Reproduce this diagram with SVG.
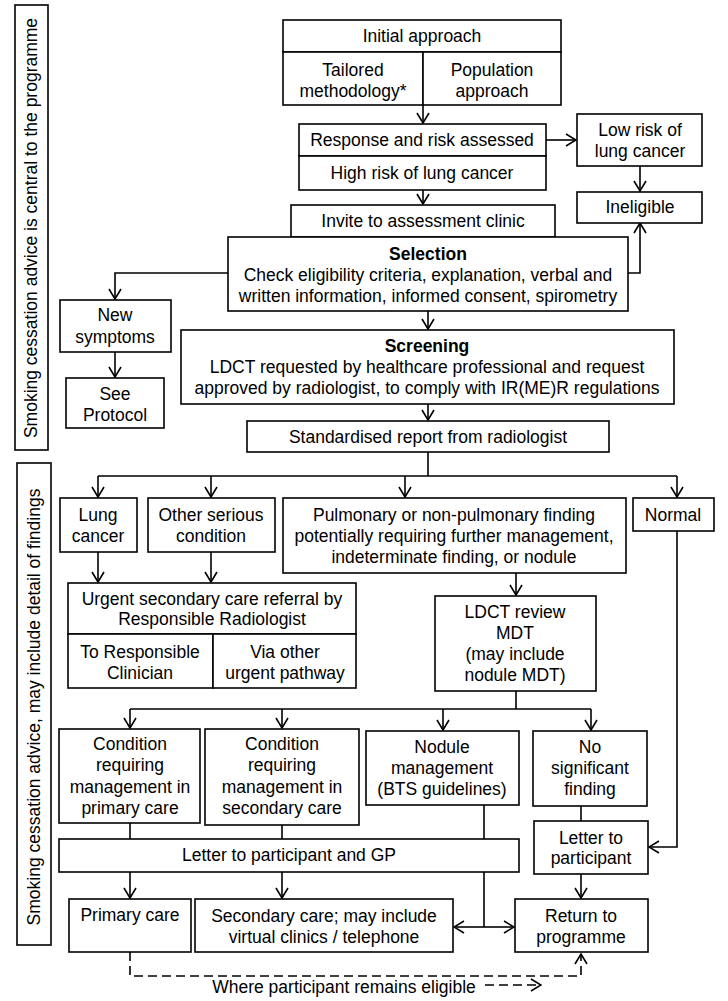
<svg xmlns="http://www.w3.org/2000/svg" width="728" height="1001" viewBox="0 0 728 1001">
<style>
.b{fill:#fff;stroke:#000;stroke-width:1.6}
text{font-family:"Liberation Sans",Arial,sans-serif;font-size:17.5px;fill:#000;text-anchor:middle}
.bold{font-weight:bold}
.c{fill:none;stroke:#000;stroke-width:1.6}
.d{fill:none;stroke:#000;stroke-width:1.6;stroke-dasharray:9 5}
</style>
<defs>
<marker id="a" viewBox="-1 -1 12 14" refX="10" refY="6" markerWidth="12" markerHeight="14" markerUnits="userSpaceOnUse" orient="auto">
<path d="M0,0 L10,6 L0,12" fill="none" stroke="#000" stroke-width="1.6"/>
</marker>
</defs>
<rect width="728" height="1001" fill="#fff"/>

<g id="bar1"><rect class="b" x="15" y="5" width="33" height="445"/><text transform="translate(37,228) rotate(-90)">Smoking cessation advice is central to the programme</text></g>
<g id="bar2"><rect class="b" x="17" y="463" width="34" height="482"/><text transform="translate(40,707) rotate(-90)">Smoking cessation advice, may include detail of findings</text></g>

<g id="connectors">
<path class="c" d="M423,105 V123" marker-end="url(#a)"/>
<path class="c" d="M546,140 H576" marker-end="url(#a)"/>
<path class="c" d="M640,166 V191" marker-end="url(#a)"/>
<path class="c" d="M423,190 V204" marker-end="url(#a)"/>
<path class="c" d="M628,273 H640 V223" marker-end="url(#a)"/>
<path class="c" d="M228,273 H115 V299" marker-end="url(#a)"/>
<path class="c" d="M115,352 V377" marker-end="url(#a)"/>
<path class="c" d="M428,311 V329" marker-end="url(#a)"/>
<path class="c" d="M428,404 V420" marker-end="url(#a)"/>
<path class="c" d="M428,452 V476 M98,476 H677"/>
<path class="c" d="M98,476 V497" marker-end="url(#a)"/>
<path class="c" d="M211,476 V497" marker-end="url(#a)"/>
<path class="c" d="M405,476 V497" marker-end="url(#a)"/>
<path class="c" d="M677,476 V497" marker-end="url(#a)"/>
<path class="c" d="M98,552 V582" marker-end="url(#a)"/>
<path class="c" d="M211,552 V582" marker-end="url(#a)"/>
<path class="c" d="M516,573 V595" marker-end="url(#a)"/>
<path class="c" d="M516,691 V709 M130,709 H591"/>
<path class="c" d="M130,709 V728" marker-end="url(#a)"/>
<path class="c" d="M282,709 V728" marker-end="url(#a)"/>
<path class="c" d="M443,709 V730" marker-end="url(#a)"/>
<path class="c" d="M591,709 V730" marker-end="url(#a)"/>
<path class="c" d="M130,823 V839 M282,825 V839 M484,805 V839 M581,806 V821"/>
<path class="c" d="M677,531 V847 H649" marker-end="url(#a)"/>
<path class="c" d="M581,874 V898" marker-end="url(#a)"/>
<path class="c" d="M130,872 V898" marker-end="url(#a)"/>
<path class="c" d="M282,872 V898" marker-end="url(#a)"/>
<path class="c" d="M484,872 V927"/>
<path class="c" d="M484,927 H454" marker-end="url(#a)"/>
<path class="c" d="M484,927 H514" marker-end="url(#a)"/>
<path class="d" d="M130,952 V976 H581 V954" marker-end="url(#a)"/>
<path class="d" d="M485,985 H541" marker-end="url(#a)"/>
</g>

<g id="initial"><rect class="b" x="283" y="20" width="278" height="32"/><text x="422" y="42">Initial approach</text></g>
<g id="tailored"><rect class="b" x="283" y="52" width="140" height="53"/><text x="353" y="76">Tailored</text><text x="353" y="97">methodology*</text></g>
<g id="population"><rect class="b" x="423" y="52" width="138" height="53"/><text x="492" y="76">Population</text><text x="492" y="97">approach</text></g>
<g id="response"><rect class="b" x="299" y="124" width="247" height="32"/><text x="422" y="146">Response and risk assessed</text></g>
<g id="highrisk"><rect class="b" x="299" y="156" width="247" height="34"/><text x="422" y="179">High risk of lung cancer</text></g>
<g id="lowrisk"><rect class="b" x="577" y="114" width="125" height="52"/><text x="640" y="136">Low risk of</text><text x="640" y="157">lung cancer</text></g>
<g id="ineligible"><rect class="b" x="577" y="192" width="125" height="31"/><text x="640" y="213">Ineligible</text></g>
<g id="invite"><rect class="b" x="291" y="205" width="264" height="32"/><text x="423" y="227">Invite to assessment clinic</text></g>
<g id="selection"><rect class="b" x="228" y="237" width="400" height="74"/><text class="bold" x="428" y="260">Selection</text><text x="428" y="281">Check eligibility criteria, explanation, verbal and</text><text x="428" y="302">written information, informed consent, spirometry</text></g>
<g id="newsymptoms"><rect class="b" x="60" y="300" width="111" height="52"/><text x="115" y="321">New</text><text x="115" y="343">symptoms</text></g>
<g id="protocol"><rect class="b" x="66" y="378" width="98" height="50"/><text x="115" y="400">See</text><text x="115" y="421">Protocol</text></g>
<g id="screening"><rect class="b" x="181" y="330" width="493" height="74"/><text class="bold" x="427" y="352">Screening</text><text x="427" y="373">LDCT requested by healthcare professional and request</text><text x="427" y="394">approved by radiologist, to comply with IR(ME)R regulations</text></g>
<g id="report"><rect class="b" x="247" y="421" width="362" height="31"/><text x="428" y="443">Standardised report from radiologist</text></g>
<g id="lungcancer"><rect class="b" x="60" y="498" width="77" height="54"/><text x="98" y="521">Lung</text><text x="98" y="542">cancer</text></g>
<g id="otherserious"><rect class="b" x="148" y="498" width="127" height="54"/><text x="211" y="521">Other serious</text><text x="211" y="542">condition</text></g>
<g id="pulmonary"><rect class="b" x="283" y="498" width="343" height="75"/><text x="454" y="521">Pulmonary or non-pulmonary finding</text><text x="454" y="542">potentially requiring further management,</text><text x="454" y="563">indeterminate finding, or nodule</text></g>
<g id="normal"><rect class="b" x="633" y="498" width="81" height="33"/><text x="673" y="521">Normal</text></g>
<g id="urgent"><rect class="b" x="68" y="583" width="288" height="51"/><text x="212" y="605">Urgent secondary care referral by</text><text x="212" y="625">Responsible Radiologist</text></g>
<g id="clinician"><rect class="b" x="68" y="634" width="145" height="54"/><text x="140" y="658">To Responsible</text><text x="140" y="679">Clinician</text></g>
<g id="otherpathway"><rect class="b" x="213" y="634" width="143" height="54"/><text x="285" y="658">Via other</text><text x="285" y="679">urgent pathway</text></g>
<g id="mdt"><rect class="b" x="435" y="596" width="161" height="95"/><text x="515" y="618">LDCT review</text><text x="515" y="639">MDT</text><text x="515" y="660">(may include</text><text x="515" y="681">nodule MDT)</text></g>
<g id="primarycond"><rect class="b" x="59" y="729" width="141" height="94"/><text x="130" y="750">Condition</text><text x="130" y="771">requiring</text><text x="130" y="793">management in</text><text x="130" y="814">primary care</text></g>
<g id="secondarycond"><rect class="b" x="205" y="729" width="154" height="96"/><text x="282" y="750">Condition</text><text x="282" y="771">requiring</text><text x="282" y="793">management in</text><text x="282" y="814">secondary care</text></g>
<g id="nodule"><rect class="b" x="366" y="731" width="153" height="74"/><text x="442" y="753">Nodule</text><text x="442" y="774">management</text><text x="442" y="795">(BTS guidelines)</text></g>
<g id="nosignificant"><rect class="b" x="533" y="731" width="114" height="75"/><text x="590" y="753">No</text><text x="590" y="774">significant</text><text x="590" y="795">finding</text></g>
<g id="lettergp"><rect class="b" x="59" y="839" width="460" height="33"/><text x="289" y="861">Letter to participant and GP</text></g>
<g id="letterpart"><rect class="b" x="534" y="821" width="114" height="53"/><text x="591" y="844">Letter to</text><text x="591" y="864">participant</text></g>
<g id="primarycare"><rect class="b" x="69" y="899" width="122" height="53"/><text x="130" y="921">Primary care</text></g>
<g id="secondarycare"><rect class="b" x="195" y="899" width="258" height="53"/><text x="324" y="922">Secondary care; may include</text><text x="324" y="943">virtual clinics / telephone</text></g>
<g id="return"><rect class="b" x="515" y="899" width="133" height="53"/><text x="581" y="922">Return to</text><text x="581" y="943">programme</text></g>
<g id="eligible"><text x="344" y="993">Where participant remains eligible</text></g>
</svg>
